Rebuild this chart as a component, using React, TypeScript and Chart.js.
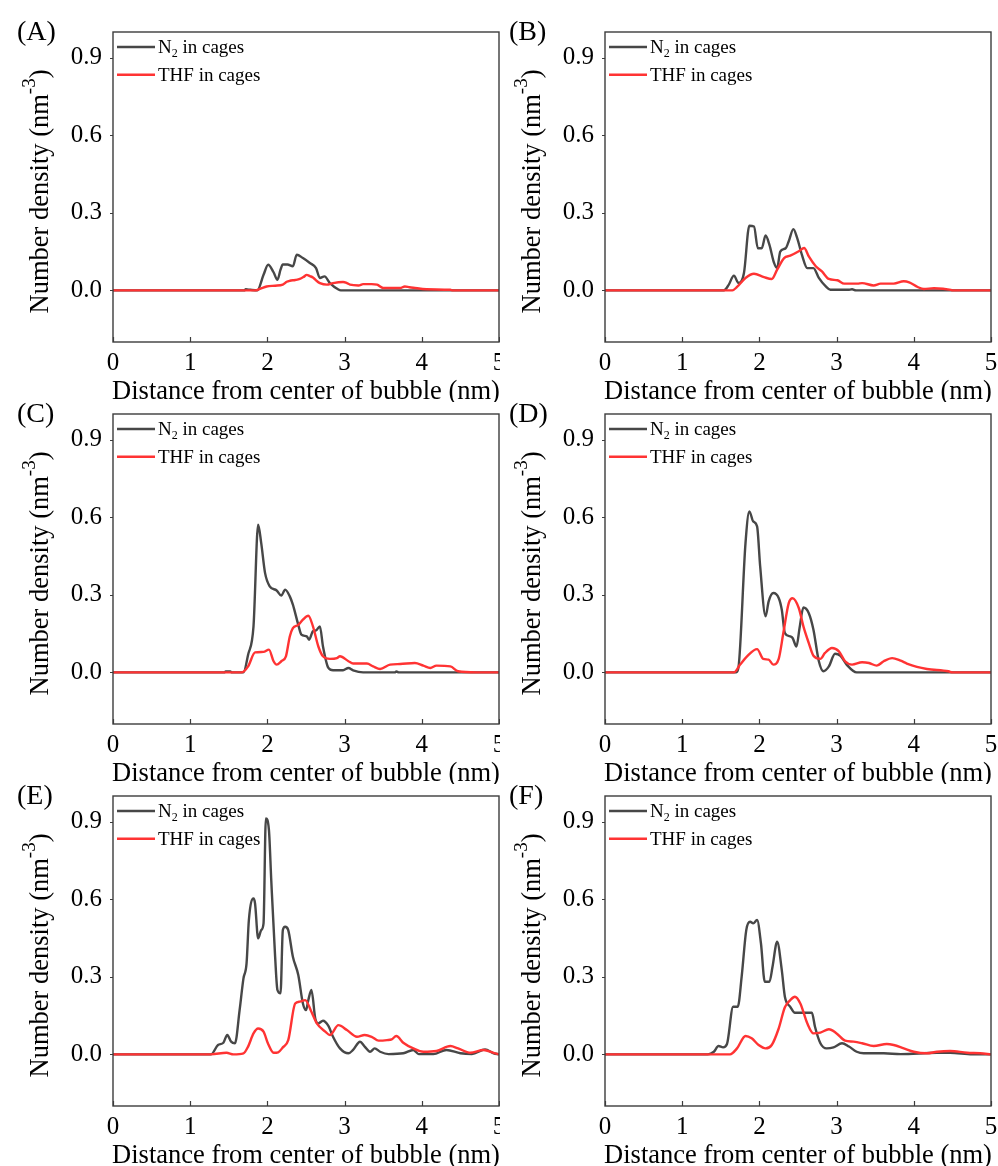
import React, { useEffect, useRef } from 'react';
import { Chart, registerables } from 'chart.js';

Chart.register(...registerables);

type Pt = [number, number];

const SERIF = '"Liberation Serif", "Times New Roman", Times, serif';
const N2_COLOR = '#474747';
const THF_COLOR = '#ff3333';
const AXIS_COLOR = '#3c3c3c';

const X_TICKS = [0, 1, 2, 3, 4, 5];
const Y_TICKS = [0, 0.3, 0.6, 0.9];
const X_MIN = 0;
const X_MAX = 5;
const Y_MIN = -0.2;
const Y_MAX = 1.0;
const X_TITLE = 'Distance from center of bubble (nm)';
const Y_TITLE = 'Number density (nm';
const Y_TITLE_SUP = '-3';
const Y_TITLE_END = ')';
const N2_LABEL = ['N', '2', ' in cages'];
const THF_LABEL = 'THF in cages';
const PANEL_LABELS = ['(A)', '(B)', '(C)', '(D)', '(E)', '(F)'];

// ---- data: [distance (nm), number density (nm^-3)] ----
const A_N2: Pt[] = [[0,0],[1.70,0],[1.72,0.004],[1.78,0.002],[1.87,0],[1.95,0.06],[2.01,0.099],[2.08,0.07],[2.13,0.041],[2.17,0.08],[2.20,0.10],[2.26,0.10],[2.33,0.093],[2.38,0.138],[2.46,0.125],[2.55,0.106],[2.63,0.086],[2.68,0.048],[2.74,0.054],[2.81,0.028],[2.92,0.003],[2.95,0],[5,0]];
const A_THF: Pt[] = [[0,0],[1.85,0],[1.92,0.008],[1.99,0.015],[2.10,0.018],[2.20,0.022],[2.25,0.033],[2.29,0.037],[2.36,0.04],[2.42,0.044],[2.47,0.052],[2.51,0.06],[2.55,0.055],[2.59,0.05],[2.64,0.036],[2.68,0.028],[2.77,0.022],[2.85,0.028],[2.98,0.032],[3.03,0.028],[3.07,0.022],[3.18,0.019],[3.24,0.024],[3.35,0.024],[3.42,0.022],[3.50,0.009],[3.72,0.009],[3.78,0.015],[3.84,0.012],[3.89,0.01],[4.06,0.004],[4.37,0.002],[4.40,0],[5,0]];

const B_N2: Pt[] = [[0,0],[1.54,0],[1.60,0.02],[1.67,0.057],[1.73,0.028],[1.80,0.067],[1.87,0.25],[1.93,0.247],[1.98,0.163],[2.03,0.163],[2.08,0.212],[2.13,0.176],[2.19,0.106],[2.23,0.086],[2.27,0.15],[2.34,0.163],[2.38,0.19],[2.44,0.237],[2.49,0.202],[2.55,0.138],[2.62,0.086],[2.70,0.086],[2.77,0.048],[2.86,0.015],[2.92,0.002],[3.15,0.002],[3.20,0.004],[3.25,0],[5,0]];
const B_THF: Pt[] = [[0,0],[1.65,0],[1.71,0.013],[1.82,0.048],[1.93,0.064],[2.06,0.051],[2.16,0.044],[2.23,0.08],[2.32,0.125],[2.40,0.134],[2.51,0.151],[2.58,0.164],[2.64,0.131],[2.73,0.093],[2.81,0.073],[2.90,0.044],[3.01,0.039],[3.10,0.026],[3.27,0.026],[3.33,0.028],[3.48,0.019],[3.57,0.026],[3.74,0.026],[3.87,0.035],[3.94,0.031],[4.05,0.013],[4.13,0.005],[4.26,0.008],[4.48,0.002],[4.50,0],[5,0]];

const C_N2: Pt[] = [[0,0],[1.44,0],[1.46,0.003],[1.52,0.003],[1.54,0],[1.69,0],[1.75,0.068],[1.82,0.178],[1.88,0.571],[1.92,0.50],[1.97,0.384],[2.03,0.333],[2.12,0.317],[2.18,0.297],[2.23,0.32],[2.29,0.294],[2.33,0.262],[2.40,0.184],[2.44,0.146],[2.51,0.139],[2.54,0.126],[2.59,0.159],[2.63,0.162],[2.68,0.178],[2.72,0.10],[2.79,0.017],[2.85,0.008],[2.98,0.008],[3.05,0.017],[3.11,0.008],[3.24,0],[3.65,0],[3.67,0.003],[3.70,0],[5,0]];
const C_THF: Pt[] = [[0,0],[1.67,0],[1.75,0.023],[1.84,0.077],[1.95,0.079],[2.02,0.088],[2.08,0.043],[2.12,0.03],[2.18,0.043],[2.24,0.062],[2.29,0.139],[2.33,0.171],[2.40,0.184],[2.46,0.204],[2.53,0.219],[2.59,0.178],[2.66,0.10],[2.72,0.062],[2.81,0.052],[2.90,0.055],[2.94,0.062],[3.05,0.043],[3.11,0.034],[3.29,0.034],[3.37,0.023],[3.46,0.013],[3.59,0.03],[3.72,0.032],[3.91,0.036],[4.02,0.026],[4.11,0.017],[4.19,0.026],[4.37,0.023],[4.47,0.004],[4.71,0],[5,0]];

const D_N2: Pt[] = [[0,0],[1.70,0],[1.73,0.021],[1.82,0.50],[1.87,0.623],[1.92,0.584],[1.97,0.565],[2.01,0.41],[2.08,0.217],[2.12,0.275],[2.18,0.307],[2.25,0.288],[2.29,0.242],[2.33,0.152],[2.40,0.139],[2.43,0.133],[2.48,0.10],[2.52,0.171],[2.57,0.251],[2.64,0.229],[2.70,0.165],[2.77,0.043],[2.83,0.004],[2.90,0.023],[2.98,0.072],[3.05,0.064],[3.13,0.03],[3.26,0],[5,0]];
const D_THF: Pt[] = [[0,0],[1.67,0],[1.75,0.03],[1.84,0.062],[1.97,0.09],[2.05,0.052],[2.12,0.049],[2.18,0.03],[2.25,0.052],[2.31,0.152],[2.38,0.268],[2.43,0.287],[2.51,0.249],[2.57,0.178],[2.64,0.113],[2.70,0.064],[2.79,0.052],[2.85,0.075],[2.94,0.094],[3.03,0.081],[3.11,0.043],[3.20,0.03],[3.33,0.039],[3.42,0.036],[3.52,0.026],[3.61,0.043],[3.72,0.055],[3.83,0.045],[3.91,0.034],[4.04,0.021],[4.17,0.013],[4.45,0.004],[4.50,0],[5,0]];

const E_N2: Pt[] = [[0,0],[1.27,0],[1.36,0.036],[1.43,0.045],[1.48,0.075],[1.53,0.049],[1.58,0.043],[1.64,0.171],[1.69,0.294],[1.73,0.352],[1.76,0.52],[1.82,0.603],[1.84,0.584],[1.88,0.449],[1.92,0.481],[1.95,0.507],[1.98,0.913],[2.02,0.868],[2.05,0.674],[2.10,0.378],[2.13,0.249],[2.17,0.236],[2.20,0.481],[2.23,0.494],[2.27,0.481],[2.33,0.378],[2.40,0.307],[2.46,0.197],[2.50,0.171],[2.53,0.21],[2.57,0.249],[2.62,0.139],[2.66,0.12],[2.72,0.13],[2.79,0.11],[2.85,0.068],[2.94,0.023],[3.05,0.004],[3.11,0.017],[3.20,0.049],[3.26,0.03],[3.33,0.01],[3.39,0.023],[3.46,0.01],[3.57,0.001],[3.76,0.004],[3.89,0.017],[3.96,0.001],[4.15,0.001],[4.32,0.017],[4.50,0.004],[4.65,0.001],[4.82,0.019],[4.93,0.004],[5,0]];
const E_THF: Pt[] = [[0,0],[1.27,0],[1.47,0.006],[1.56,0],[1.69,0.004],[1.75,0.03],[1.82,0.081],[1.88,0.10],[1.95,0.088],[2.01,0.04],[2.08,0.006],[2.14,0.008],[2.20,0.027],[2.27,0.055],[2.36,0.197],[2.42,0.204],[2.49,0.21],[2.57,0.165],[2.64,0.12],[2.75,0.088],[2.81,0.075],[2.92,0.113],[3.03,0.094],[3.16,0.068],[3.26,0.075],[3.35,0.068],[3.44,0.053],[3.55,0.055],[3.61,0.058],[3.67,0.071],[3.76,0.045],[3.89,0.023],[4.02,0.01],[4.19,0.013],[4.37,0.032],[4.47,0.023],[4.63,0.006],[4.80,0.017],[4.93,0.006],[5,0]];

const F_N2: Pt[] = [[0,0],[1.33,0],[1.41,0.01],[1.47,0.032],[1.53,0.027],[1.58,0.04],[1.66,0.184],[1.72,0.184],[1.77,0.30],[1.83,0.481],[1.88,0.513],[1.92,0.507],[1.97,0.52],[2.02,0.43],[2.07,0.281],[2.13,0.281],[2.17,0.339],[2.23,0.436],[2.29,0.326],[2.33,0.223],[2.40,0.184],[2.46,0.161],[2.68,0.161],[2.72,0.107],[2.79,0.043],[2.87,0.023],[2.96,0.027],[3.07,0.043],[3.16,0.03],[3.26,0.01],[3.35,0.004],[3.61,0.004],[3.83,0.001],[4.30,0.006],[4.47,0.006],[4.76,0],[5,0]];
const F_THF: Pt[] = [[0,0],[1.62,0],[1.71,0.023],[1.82,0.071],[1.90,0.062],[1.99,0.036],[2.08,0.023],[2.16,0.036],[2.25,0.10],[2.33,0.182],[2.40,0.21],[2.46,0.223],[2.53,0.197],[2.62,0.12],[2.70,0.081],[2.79,0.084],[2.90,0.097],[3.00,0.081],[3.11,0.053],[3.22,0.049],[3.33,0.043],[3.48,0.032],[3.65,0.04],[3.74,0.036],[3.87,0.023],[4.00,0.01],[4.17,0.004],[4.30,0.01],[4.47,0.013],[4.69,0.006],[4.86,0.004],[5,0]];

// ---- layout ----
const CANVAS_H = 402;
const PAD_TOP = 32;
const PLOT_H = 310;
const X_AXIS_H = CANVAS_H - PAD_TOP - PLOT_H;

const decorPlugin = {
  id: 'decor',
  afterDraw(chart: any, _args: any, opts: any) {
    const { ctx, chartArea: a, scales } = chart;
    const xs = scales.x;
    const ys = scales.y;
    ctx.save();
    // frame
    ctx.strokeStyle = AXIS_COLOR;
    ctx.lineWidth = 1.4;
    ctx.strokeRect(a.left, a.top, a.right - a.left, a.bottom - a.top);
    // x ticks (inward)
    ctx.lineWidth = 1.2;
    ctx.beginPath();
    for (const v of X_TICKS) {
      const px = Math.round(xs.getPixelForValue(v)) + 0.5;
      ctx.moveTo(px, a.bottom);
      ctx.lineTo(px, a.bottom - 5);
    }
    // y ticks (outward)
    for (const v of Y_TICKS) {
      const py = Math.round(ys.getPixelForValue(v)) + 0.5;
      ctx.moveTo(a.left - 3, py);
      ctx.lineTo(a.left, py);
    }
    ctx.stroke();

    ctx.fillStyle = '#000';
    ctx.textBaseline = 'alphabetic';
    // panel label
    ctx.textAlign = 'left';
    ctx.font = `28px ${SERIF}`;
    ctx.fillText(opts.label, a.left - 96, a.top + 7.5);

    // legend
    const l1 = a.top + 15;
    const l2 = a.top + 42.7;
    ctx.lineWidth = 2.4;
    ctx.strokeStyle = N2_COLOR;
    ctx.beginPath();
    ctx.moveTo(a.left + 4, l1);
    ctx.lineTo(a.left + 42, l1);
    ctx.stroke();
    ctx.strokeStyle = THF_COLOR;
    ctx.beginPath();
    ctx.moveTo(a.left + 4, l2);
    ctx.lineTo(a.left + 42, l2);
    ctx.stroke();
    let tx = a.left + 45;
    ctx.font = `19px ${SERIF}`;
    ctx.fillText(N2_LABEL[0], tx, l1 + 6.3);
    tx += ctx.measureText(N2_LABEL[0]).width;
    ctx.font = `12px ${SERIF}`;
    ctx.fillText(N2_LABEL[1], tx, l1 + 10);
    tx += ctx.measureText(N2_LABEL[1]).width;
    ctx.font = `19px ${SERIF}`;
    ctx.fillText(N2_LABEL[2], tx, l1 + 6.3);
    ctx.fillText(THF_LABEL, a.left + 45, l2 + 6.3);

    // x title
    ctx.textAlign = 'center';
    ctx.font = `26.5px ${SERIF}`;
    ctx.fillText(X_TITLE, (a.left + a.right) / 2, a.bottom + 57);

    // y title (rotated, with superscript)
    ctx.translate(a.left - 65, (a.top + a.bottom) / 2 + 4.5);
    ctx.rotate(-Math.PI / 2);
    ctx.textAlign = 'left';
    ctx.font = `26.5px ${SERIF}`;
    const w1 = ctx.measureText(Y_TITLE).width;
    const w3 = ctx.measureText(Y_TITLE_END).width;
    ctx.font = `19px ${SERIF}`;
    const w2 = ctx.measureText(Y_TITLE_SUP).width;
    let sx = -(w1 + w2 + w3) / 2;
    ctx.font = `26.5px ${SERIF}`;
    ctx.fillText(Y_TITLE, sx, 0);
    sx += w1;
    ctx.font = `19px ${SERIF}`;
    ctx.fillText(Y_TITLE_SUP, sx, -13);
    sx += w2;
    ctx.font = `26.5px ${SERIF}`;
    ctx.fillText(Y_TITLE_END, sx, 0);
    ctx.restore();
  },
};

interface PanelProps {
  label: string;
  n2: Pt[];
  thf: Pt[];
  left: number;
  top: number;
  width: number;
  axisWidth: number;
  padRight: number;
}

function Panel({ label, n2, thf, left, top, width, axisWidth, padRight }: PanelProps) {
  const ref = useRef<HTMLCanvasElement>(null);
  useEffect(() => {
    if (!ref.current) return;
    const tickFont = { family: SERIF, size: 25 };
    const lineStyle = {
      borderWidth: 2.4,
      pointRadius: 0,
      cubicInterpolationMode: 'monotone' as const,
      fill: false,
      borderJoinStyle: 'round' as const,
    };
    const chart = new Chart(ref.current, {
      type: 'line',
      data: {
        datasets: [
          {
            label: 'N2 in cages',
            data: n2.map(([x, y]) => ({ x, y })),
            borderColor: N2_COLOR,
            order: 1,
            ...lineStyle,
          },
          {
            label: THF_LABEL,
            data: thf.map(([x, y]) => ({ x, y })),
            borderColor: THF_COLOR,
            order: 0,
            ...lineStyle,
          },
        ],
      },
      options: {
        responsive: false,
        animation: false,
        devicePixelRatio: 1,
        events: [],
        layout: { padding: { top: PAD_TOP, right: padRight, left: 0, bottom: 0 } },
        plugins: {
          legend: { display: false },
          tooltip: { enabled: false },
          title: { display: false },
          decor: { label },
        } as any,
        scales: {
          x: {
            type: 'linear',
            min: X_MIN,
            max: X_MAX,
            grid: { display: false, drawTicks: false, tickLength: 0 },
            border: { display: false },
            ticks: {
              font: tickFont,
              color: '#000',
              padding: 6,
              maxRotation: 0,
              autoSkip: false,
              callback: (v: any) => String(v),
            },
            afterBuildTicks: (s: any) => {
              s.ticks = X_TICKS.map((v) => ({ value: v }));
            },
            afterFit: (s: any) => {
              s.height = X_AXIS_H;
              s.paddingLeft = 0;
              s.paddingRight = 0;
            },
          },
          y: {
            type: 'linear',
            min: Y_MIN,
            max: Y_MAX,
            grid: { display: false, drawTicks: false, tickLength: 0 },
            border: { display: false },
            ticks: {
              font: tickFont,
              color: '#000',
              padding: 11,
              autoSkip: false,
              callback: (v: any) => Number(v).toFixed(1),
            },
            afterBuildTicks: (s: any) => {
              s.ticks = Y_TICKS.map((v) => ({ value: v }));
            },
            afterFit: (s: any) => {
              s.width = axisWidth;
              s.paddingTop = 0;
              s.paddingBottom = 0;
            },
          },
        },
      } as any,
      plugins: [decorPlugin],
    });
    return () => chart.destroy();
  }, []);
  return (
    <canvas
      ref={ref}
      width={width}
      height={CANVAS_H}
      style={{ position: 'absolute', left, top, width, height: CANVAS_H, display: 'block' }}
    />
  );
}

const PANELS: { n2: Pt[]; thf: Pt[] }[] = [
  { n2: A_N2, thf: A_THF },
  { n2: B_N2, thf: B_THF },
  { n2: C_N2, thf: C_THF },
  { n2: D_N2, thf: D_THF },
  { n2: E_N2, thf: E_THF },
  { n2: F_N2, thf: F_THF },
];

export default function App() {
  return (
    <div
      style={{
        position: 'fixed',
        left: 0,
        top: 0,
        width: 998,
        height: 1166,
        background: '#fff',
        overflow: 'hidden',
      }}
    >
      {PANELS.map((p, i) => {
        const col = i % 2;
        const row = Math.floor(i / 2);
        return (
          <Panel
            key={i}
            label={PANEL_LABELS[i]}
            n2={p.n2}
            thf={p.thf}
            left={col === 0 ? 0 : 500}
            top={row * 382}
            width={col === 0 ? 500 : 498}
            axisWidth={col === 0 ? 113 : 105}
            padRight={col === 0 ? 1 : 7}
          />
        );
      })}
    </div>
  );
}
